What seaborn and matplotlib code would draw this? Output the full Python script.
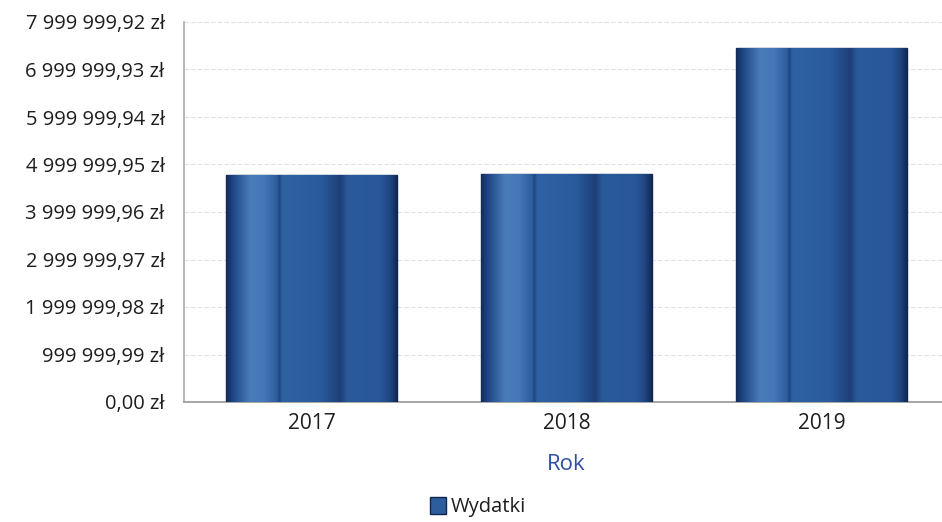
import numpy as np
import pandas as pd
import matplotlib
matplotlib.use("Agg")
import matplotlib.pyplot as plt
from matplotlib.colors import LinearSegmentedColormap
from matplotlib.patches import Patch
import seaborn as sns

years = ["2017", "2018", "2019"]
wydatki = [4780000.0, 4800000.0, 7450000.0]
tick_step = 999999.99
n_ticks = 9
series_name = "Wydatki"
x_label = "Rok"

sns.set_theme(style="white")
plt.rcParams['font.family'] = ['Open Sans', 'DejaVu Sans']

df = pd.DataFrame({"Rok": years, "Wydatki": wydatki})

fig = plt.figure(figsize=(9.42, 5.22), dpi=100)
ax = fig.add_axes([184/942, 1 - 402/522, (949-184)/942, (402-22)/522])

sns.barplot(data=df, x="Rok", y="Wydatki", color="#2d5d9c", width=0.667,
            ax=ax, zorder=3, saturation=1)

ticks = [k * tick_step for k in range(n_ticks)]
ax.set_ylim(0, ticks[-1])
ax.set_xlim(-0.5, 2.5)
ax.set_yticks(ticks)

def fmt(v):
    s = f"{v:,.2f}"
    ip, dp = s.split(".")
    return ip.replace(",", " ") + "," + dp + " zł"

ax.set_yticklabels([fmt(t) for t in ticks], fontsize=14.5, color="#1e1e1e")
ax.tick_params(axis="y", length=0, pad=14)
ax.tick_params(axis="x", length=0, pad=8, labelsize=15, labelcolor="#1e1e1e")
ax.yaxis.grid(True, color="#e0e0e0", linewidth=0.8, linestyle=(0, (4, 2)), zorder=0)
ax.set_axisbelow(True)
for s in ["top", "right"]:
    ax.spines[s].set_visible(False)
ax.spines["left"].set_color("#b0b0b0")
ax.spines["bottom"].set_color("#9a9a9a")
ax.set_ylabel("")
ax.set_xlabel(x_label, fontsize=16, color="#2f4fa0", labelpad=14)

# cylinder-like gradient across each bar
cmap = LinearSegmentedColormap.from_list("cyl", [
    (0.00, "#142c5c"), (0.04, "#1f4684"), (0.14, "#4a7cba"), (0.22, "#4677b6"),
    (0.30, "#2c5c9b"), (0.31, "#1e4680"), (0.33, "#2f62a2"), (0.55, "#2a5c9d"),
    (0.67, "#1d3f78"), (0.71, "#2a5a99"), (0.90, "#29589a"), (0.96, "#1f4682"),
    (1.00, "#122a58")])
grad = np.linspace(0, 1, 256).reshape(1, -1)
for p in ax.patches:
    x0, y0 = p.get_x(), p.get_y()
    w, h = p.get_width(), p.get_height()
    im = ax.imshow(grad, cmap=cmap, aspect="auto", extent=[x0, x0 + w, y0, y0 + h],
                   zorder=4, interpolation="bilinear")
    im.set_clip_path(p)
    p.set_edgecolor("#10254f")
    p.set_linewidth(1.0)
ax.set_xlim(-0.5, 2.5)
ax.set_ylim(0, ticks[-1])

# legend swatch
img_patch = Patch(facecolor="#2d5d9c", edgecolor="#10254f", label=series_name)
fig.legend(handles=[img_patch], loc="center", bbox_to_anchor=(478/942, 1 - 507/522),
           frameon=False, fontsize=14.5, handlelength=0.8, handleheight=0.9,
           handletextpad=0.25, labelcolor="#1e1e1e")

fig.savefig("out.png", dpi=100, facecolor="white")
